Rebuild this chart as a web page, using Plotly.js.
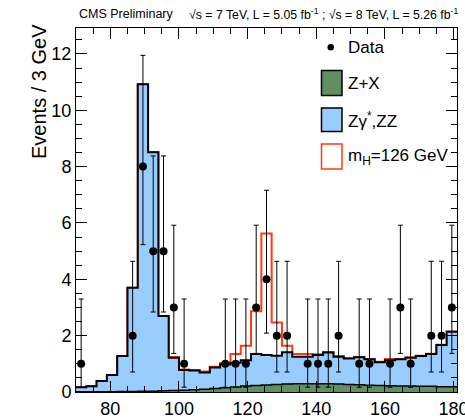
<!DOCTYPE html>
<html><head><meta charset="utf-8">
<script src="https://cdn.plot.ly/plotly-3.0.1.min.js"></script>
<style>html,body{margin:0;padding:0;overflow:hidden;background:#fff}</style>
</head><body><div id="chart" style="width:465px;height:419px"></div>
<script>
// Histogram binning (GeV)
const binLow = 70, binWidth = 3;
// Z+X background per 3 GeV bin
const zxBkg = [0.01,0.01,0.01,0.01,0.02,0.02,0.03,0.03,0.04,0.05,0.06,0.08,0.10,0.12,0.15,0.18,0.21,0.23,0.25,0.27,0.28,0.29,0.29,0.29,0.29,0.28,0.27,0.26,0.24,0.23,0.22,0.21,0.21,0.20,0.20,0.19,0.19];
// Zgamma*, ZZ background per bin
const zzBkg = [0.16,0.19,0.38,0.59,1.26,3.68,10.89,8.48,2.66,1.17,0.72,0.68,0.59,0.75,0.83,0.86,0.92,1.12,1.06,1.02,1.13,0.96,0.96,1.02,1.11,0.97,0.92,0.97,0.92,0.83,0.91,0.95,1.01,1.08,1.15,1.48,1.95];
// Higgs signal mH = 126 GeV per bin
const higgs126 = [0,0,0,0,0,0,0,0,0,0.02,0.02,0.02,0.04,0.03,0.05,0.31,0.51,1.52,4.32,1.18,0.23,0.10,0.10,0.03,0.02,0.03,0.01,0.01,0.01,0.01,0.04,0.01,0.01,0.01,0.01,0.01,0.01];
// Observed data
const dataX = [71.5,86.5,89.5,92.5,95.5,98.5,101.5,113.5,116.5,119.5,122.5,125.5,128.5,131.5,137.5,140.5,143.5,146.5,152.5,155.5,161.5,164.5,167.5,173.5,176.5,179.5];
const dataN = [1,2,8,5,5,3,1,1,1,1,3,4,2,2,1,1,1,2,1,1,1,3,1,2,2,3];
const dataErrUp   = [2.30,2.64,3.95,3.38,3.38,2.92,2.30,2.30,2.30,2.30,2.92,3.16,2.64,2.64,2.30,2.30,2.30,2.64,2.30,2.30,2.30,2.92,2.30,2.64,2.64,2.92];
const dataErrDown = [0.83,1.29,2.77,2.16,2.16,1.63,0.83,0.83,0.83,0.83,1.63,1.91,1.29,1.29,0.83,0.83,0.83,1.29,0.83,0.83,0.83,1.63,0.83,1.29,1.29,1.63];

const nb = zzBkg.length;
const edges = [];
for (let i = 0; i <= nb; i++) edges.push(binLow + i * binWidth);
function stepY(arr) { return arr.concat([arr[arr.length - 1]]); }
const sumBkg = zxBkg.map((v, i) => v + zzBkg[i]);
const sumAll = sumBkg.map((v, i) => v + higgs126[i]);

const RED = '#ff3a10', BLUE = '#99ccff', GREEN = '#609060';
const FONT = 'Liberation Sans, Arial, sans-serif';

const traces = [
  {x: edges, y: stepY(sumAll), mode: 'lines', line: {shape: 'hv', color: RED, width: 2}, hoverinfo: 'skip'},
  {x: edges, y: stepY(sumBkg), mode: 'lines', fill: 'tozeroy', fillcolor: BLUE, line: {shape: 'hv', color: 'black', width: 2}, hoverinfo: 'skip'},
  {x: edges, y: stepY(zxBkg), mode: 'lines', fill: 'tozeroy', fillcolor: GREEN, line: {shape: 'hv', color: 'black', width: 1.5}, hoverinfo: 'skip'},
  {x: dataX, y: dataN, mode: 'markers', marker: {color: 'black', size: 8},
   error_y: {type: 'data', symmetric: false, array: dataErrUp, arrayminus: dataErrDown, color: 'black', thickness: 1, width: 2.5}}
];

// plot area in pixels: left 76, right 457, top 28, bottom 392
const L = 76, R = 457, T = 28, B = 392;
const px = X => (X - L) / (R - L);
const py = Y => (B - Y) / (B - T);

const shapes = [
  {type: 'rect', xref: 'paper', yref: 'paper', x0: px(321.5), x1: px(342), y0: py(95.5), y1: py(70.5), fillcolor: GREEN, line: {color: 'black', width: 1.5}},
  {type: 'rect', xref: 'paper', yref: 'paper', x0: px(321.5), x1: px(342), y0: py(131.5), y1: py(108), fillcolor: BLUE, line: {color: 'black', width: 1.5}},
  {type: 'rect', xref: 'paper', yref: 'paper', x0: px(321.5), x1: px(342), y0: py(169), y1: py(144), fillcolor: 'white', line: {color: RED, width: 1.5}},
  {type: 'circle', xref: 'paper', yref: 'paper', x0: px(327.5), x1: px(334), y0: py(50.5), y1: py(44), fillcolor: 'black', line: {color: 'black', width: 0}}
];

const txt = (x, y, s, size, extra) => Object.assign({xref: 'paper', yref: 'paper', x: x, y: y, text: s, showarrow: false,
  xanchor: 'left', yanchor: 'middle', font: {family: FONT, size: size, color: 'black'}}, extra || {});

const annotations = [
  txt(px(346), py(47), 'Data', 17),
  txt(px(346), py(83), 'Z+X', 17),
  txt(px(346), py(120), 'Zγ<sup>*</sup>,ZZ', 17),
  txt(px(346), py(156.5), 'm<sub>H</sub>=126 GeV', 17),
  txt(px(77), py(14), 'CMS Preliminary', 12.5),
  txt(px(187), py(14), '√s = 7 TeV, L = 5.05 fb<sup>-1</sup> ; √s = 8 TeV, L = 5.26 fb<sup>-1</sup>', 12.3),
  txt(px(39), py(92), 'Events / 3 GeV', 20, {xanchor: 'center', textangle: -90})
];

const axisCommon = {
  showgrid: false, zeroline: false, showline: true, linecolor: 'black', linewidth: 1,
  mirror: 'allticks', ticks: 'inside', ticklen: 11, tickwidth: 1, tickcolor: 'black',
  tickfont: {family: FONT, size: 18, color: 'black'}, tickmode: 'linear', tick0: 0,
  ticklabeloverflow: 'allow'
};

const layout = {
  width: 465, height: 419,
  margin: {l: L, r: 465 - R, t: T, b: 419 - B, pad: 0},
  paper_bgcolor: 'white', plot_bgcolor: 'white',
  showlegend: false,
  xaxis: Object.assign({}, axisCommon, {range: [70, 181], dtick: 20,
    minor: {dtick: 5, tick0: 0, ticks: 'inside', ticklen: 6, tickcolor: 'black', tickwidth: 1, showgrid: false}}),
  yaxis: Object.assign({}, axisCommon, {range: [0, 12.92], dtick: 2,
    minor: {dtick: 0.5, tick0: 0, ticks: 'inside', ticklen: 6, tickcolor: 'black', tickwidth: 1, showgrid: false}}),
  shapes: shapes,
  annotations: annotations
};

Plotly.newPlot('chart', traces, layout, {staticPlot: true, displayModeBar: false});
</script>
</body></html>
